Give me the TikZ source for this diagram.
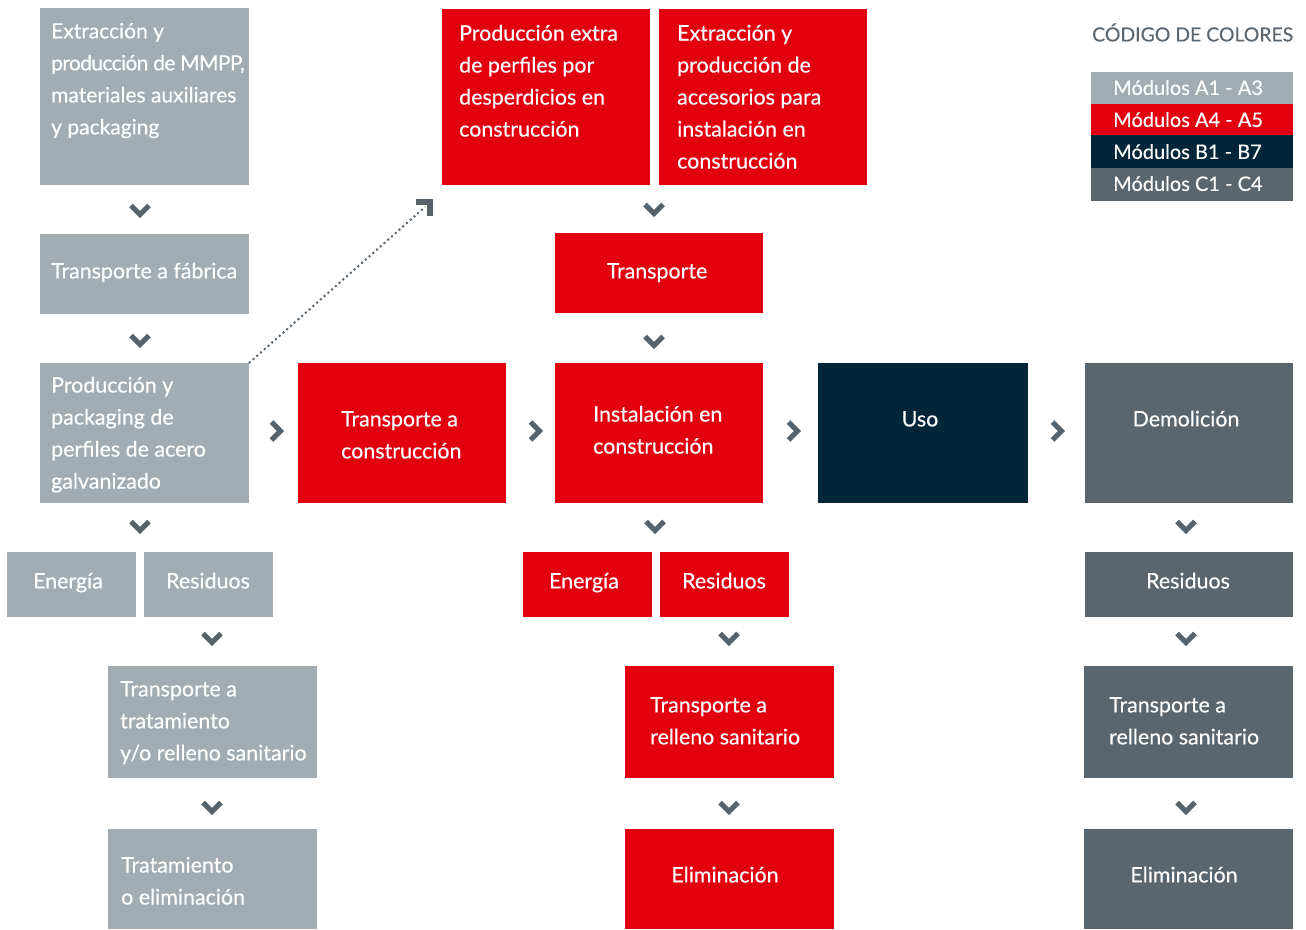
\documentclass[tikz,border=0pt]{standalone}
\usepackage{fontspec}
\setmainfont{Lato}[FakeBold=0.25]
\definecolor{cA}{HTML}{A2ACB2}
\definecolor{cR}{HTML}{E2000F}
\definecolor{cB}{HTML}{022639}
\definecolor{cC}{HTML}{59656F}
\definecolor{chev}{HTML}{56626C}
\newcommand{\bx}[6]{\node[boxst, fill=#6, minimum width={#4pt-#2pt}, minimum height={#5pt-#3pt}] (#1) at ({(#2+#4)/2},{(#3+#5)/2}) {};}
\newcommand{\chd}[2]{\draw[chevst] (#1-9,#2-4.5) -- (#1,#2+4.5) -- (#1+9,#2-4.5);}
\newcommand{\chr}[2]{\draw[chevst] (#1-4.5,#2-9) -- (#1+4.5,#2) -- (#1-4.5,#2+9);}
\begin{document}
\begin{tikzpicture}[x=1pt,y=-1pt,
  boxst/.style={draw=none, inner sep=0, outer sep=0, rectangle},
  txt/.style={text=white, align=left, inner sep=0, font=\fontsize{21.4}{32}\selectfont,
    execute at begin node=\strut, execute at end node=\strut},
  ml/.style={yshift=-4.5pt},
  lg/.style={font=\fontsize{20}{32}\selectfont},
  chevst/.style={draw=chev, line width=5pt, line join=miter, line cap=butt},
  ]
\useasboundingbox (0,0) rectangle (1306,929);
% --- A1-A3 column
\bx{a1}{40}{8}{249}{185}{cA}
\bx{a2}{40}{234}{249}{314}{cA}
\bx{a3}{40}{363}{249}{503}{cA}
\bx{a4}{7}{552}{136}{617}{cA}
\bx{a5}{144}{552}{273}{617}{cA}
\bx{a6}{108}{666}{317}{778}{cA}
\bx{a7}{108}{829}{317}{929}{cA}
% --- A4-A5
\bx{r1}{442}{9}{650}{185}{cR}
\bx{r2}{659}{9}{867}{185}{cR}
\bx{r3}{555}{233}{763}{313}{cR}
\bx{r4}{298}{363}{506}{503}{cR}
\bx{r5}{555}{363}{763}{503}{cR}
\bx{r6}{523}{552}{652}{617}{cR}
\bx{r7}{660}{552}{789}{617}{cR}
\bx{r8}{625}{666}{834}{778}{cR}
\bx{r9}{625}{829}{834}{929}{cR}
% --- B
\bx{b1}{818}{363}{1028}{503}{cB}
% --- C
\bx{c1}{1085}{363}{1293}{503}{cC}
\bx{c2}{1085}{552}{1293}{617}{cC}
\bx{c3}{1084}{666}{1293}{778}{cC}
\bx{c4}{1084}{829}{1293}{929}{cC}
% --- legend
\bx{l1}{1091}{72}{1293}{104}{cA}
\bx{l2}{1091}{104}{1293}{135}{cR}
\bx{l3}{1091}{135}{1293}{168}{cB}
\bx{l4}{1091}{168}{1293}{201}{cC}
% --- texts
\node[txt, ml, anchor=west, font=\fontsize{21}{32}\selectfont] (ta1) at (51,79) {Extracción y\\{\addfontfeature{LetterSpace=-3}producción de MMPP,}\\materiales auxiliares\\y packaging};
\node[txt, anchor=west] (ta2) at (51,272) {Transporte a fábrica};
\node[txt, ml, anchor=west] (ta3) at (51,433) {Producción y\\packaging de\\perfiles de acero\\galvanizado};
\node[txt] (ta4) at (68,582) {Energía};
\node[txt] (ta5) at (208,582) {Residuos};
\node[txt, ml, anchor=west] (ta6) at (120,721) {Transporte a\\tratamiento\\y/o relleno sanitario};
\node[txt, ml, anchor=west] (ta7) at (121,881) {Tratamiento\\o eliminación};
\node[txt, ml, anchor=west] (tr1) at (459,81) {Producción extra\\de perfiles por\\desperdicios en\\construcción};
\node[txt, ml, anchor=west] (tr2) at (677,97) {Extracción y\\producción de\\accesorios para\\instalación en\\construcción};
\node[txt] (tr3) at (657,272) {Transporte};
\node[txt, ml, anchor=west] (tr4) at (341,435) {Transporte a\\construcción};
\node[txt, ml, anchor=west] (tr5) at (593,430) {Instalación en\\construcción};
\node[txt] (tr6) at (584,582) {Energía};
\node[txt] (tr7) at (724,582) {Residuos};
\node[txt, ml, anchor=west] (tr8) at (650,721) {Transporte a\\relleno sanitario};
\node[txt] (tr9) at (725,876) {Eliminación};
\node[txt] (tb1) at (920,420) {Uso};
\node[txt] (tc1) at (1186,420) {Demolición};
\node[txt] (tc2) at (1188,582) {Residuos};
\node[txt, ml, anchor=west] (tc3) at (1109,721) {Transporte a\\relleno sanitario};
\node[txt] (tc4) at (1184,876) {Eliminación};
\node[txt, text=cC, anchor=west, font=\fontsize{19.4}{32}\selectfont] (lt) at (1092,35) {CÓDIGO DE COLORES};
\node[txt, lg, anchor=west] (lt1) at (1113,88.5) {Módulos A1 - A3};
\node[txt, lg, anchor=west] (lt2) at (1113,120.5) {Módulos A4 - A5};
\node[txt, lg, anchor=west] (lt3) at (1113,152.5) {Módulos B1 - B7};
\node[txt, lg, anchor=west] (lt4) at (1113,184.5) {Módulos C1 - C4};
% --- chevrons
\chd{140}{210}\chd{140}{340}\chd{140}{526}\chd{212}{638}\chd{212}{807}
\chd{654}{209}\chd{654}{341}\chd{655}{526}\chd{729}{638}\chd{729}{807}
\chd{1186}{526}\chd{1186}{638}\chd{1186}{807}
\chr{276}{431}\chr{535}{431}\chr{793}{431}\chr{1057}{431}
% --- dotted link
\coordinate (tipend) at (425,207);
\draw[draw=chev, line width=2pt, dash pattern=on 2pt off 3pt] (a3.north east) -- (tipend);
\draw[draw=chev, line width=6pt, line join=miter, line cap=butt] (416,202) -- (430,202) -- (430,216);
\end{tikzpicture}
\end{document}
